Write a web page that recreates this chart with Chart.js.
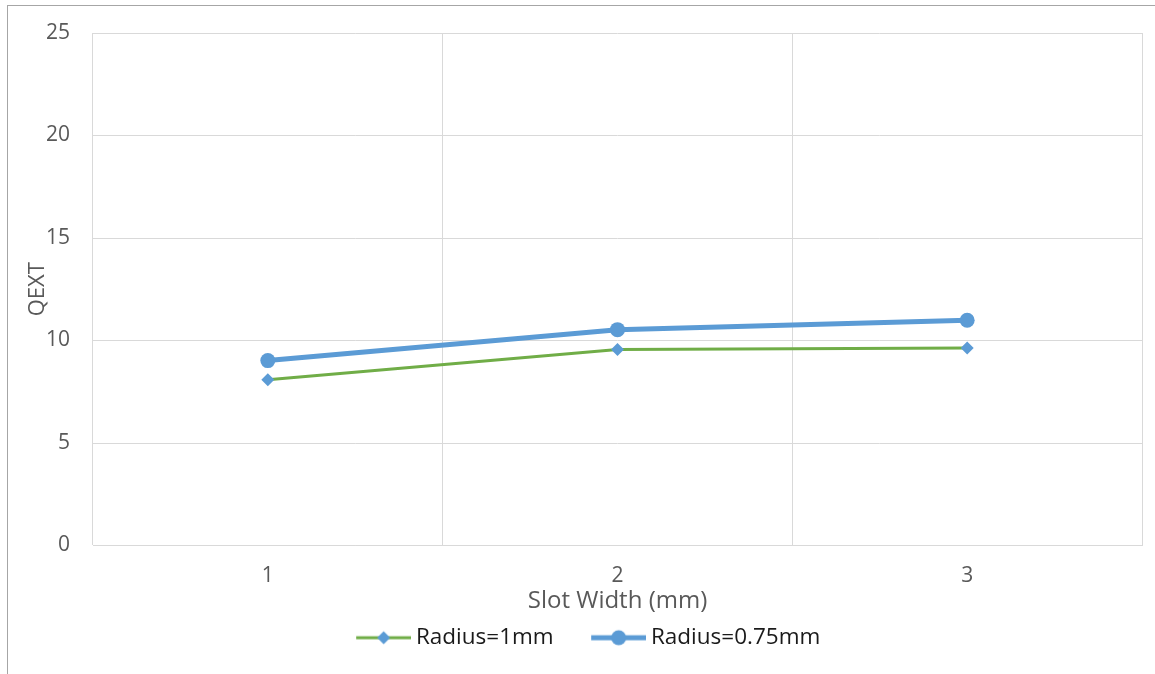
<!DOCTYPE html>
<html lang="en">
<head>
    <meta charset="UTF-8">
    <title>QEXT vs Slot Width</title>
    <script src="https://cdn.jsdelivr.net/npm/chart.js@4.4.0/dist/chart.umd.min.js"></script>
    <style>
        body { margin: 0; background: #fff; }
        #frame {
            position: absolute; left: 7px; top: 5px;
            width: 1148px; height: 669px;
            border-left: 1px solid #a6a6a6; border-top: 1px solid #a6a6a6;
        }
        #wrap { position: absolute; left: 0; top: 0; width: 1147px; height: 668px; }
    </style>
</head>
<body>

<div id="frame"><div id="wrap"><canvas id="myChart"></canvas></div></div>

<script>

    var slotWidths = ['1', '2', '3'];
    var radius1mm = [8.09, 9.56, 9.63];
    var radius075mm = [9.02, 10.53, 10.99];
    var yTicks = [0, 5, 10, 15, 20, 25];

    var green = '#70AD47';
    var blue = '#5B9BD5';
    var font = "'Open Sans', 'Liberation Sans', sans-serif";

    // legend picture: line + marker, drawn in the right part of a wider canvas
    var iconW = 88, lineLen = 55;
    function legendIcon(lineColor, lineWidth, marker) {
        var c = document.createElement('canvas');
        c.width = iconW; c.height = 18;
        var g = c.getContext('2d');
        var x0 = iconW - lineLen, mid = iconW - lineLen / 2;
        g.strokeStyle = lineColor;
        g.lineWidth = lineWidth;
        g.beginPath(); g.moveTo(x0, 9); g.lineTo(iconW, 9); g.stroke();
        g.fillStyle = blue;
        g.beginPath();
        if (marker == 'diamond') {
            g.moveTo(mid, 2.5); g.lineTo(mid + 6.5, 9); g.lineTo(mid, 15.5); g.lineTo(mid - 6.5, 9);
        } else {
            g.arc(mid, 9, 7.5, 0, Math.PI * 2);
        }
        g.closePath(); g.fill();
        return c;
    }

    var icons = [legendIcon(green, 3, 'diamond'), legendIcon(blue, 5, 'circle')];

    var ctx = document.getElementById('myChart');

    var chart = new Chart(ctx, {
        type: 'line',
        data: {
            labels: slotWidths,
            datasets: [{
                label: 'Radius=1mm',
                data: radius1mm,
                borderColor: green,
                backgroundColor: blue,
                borderWidth: 3,
                pointStyle: 'rectRot',
                pointRadius: 6.5,
                pointHoverRadius: 6.5,
                pointBorderWidth: 0,
                pointBackgroundColor: blue,
                tension: 0
            }, {
                label: 'Radius=0.75mm',
                data: radius075mm,
                borderColor: blue,
                backgroundColor: blue,
                borderWidth: 5,
                pointStyle: 'circle',
                pointRadius: 7.5,
                pointHoverRadius: 7.5,
                pointBorderWidth: 0,
                pointBackgroundColor: blue,
                tension: 0
            }]
        },
        options: {
            responsive: true,
            maintainAspectRatio: false,
            animation: false,
            layout: { padding: { top: 27, right: 13, bottom: 15, left: 0 } },
            plugins: {
                tooltip: { enabled: false },
                legend: {
                    position: 'bottom',
                    labels: {
                        usePointStyle: true,
                        pointStyleWidth: iconW - 13,
                        padding: 11,
                        color: '#1a1a1a',
                        font: { family: font, size: 22.5 },
                        generateLabels: function (chart) {
                            return chart.data.datasets.map(function (ds, i) {
                                return {
                                    text: ds.label,
                                    pointStyle: icons[i],
                                    fillStyle: ds.borderColor,
                                    strokeStyle: ds.borderColor,
                                    lineWidth: 0,
                                    fontColor: '#1a1a1a',
                                    hidden: false,
                                    datasetIndex: i
                                };
                            });
                        }
                    }
                }
            },
            scales: {
                x: {
                    offset: true,
                    grid: { offset: true, color: '#D9D9D9', lineWidth: 1, drawTicks: false },
                    border: { color: '#D9D9D9' },
                    ticks: { color: '#595959', padding: 18, font: { family: font, size: 21 } },
                    title: {
                        display: true,
                        text: 'Slot Width (mm)',
                        color: '#595959',
                        padding: { top: -20, bottom: 0 },
                        font: { family: font, size: 24 }
                    }
                },
                y: {
                    min: 0,
                    max: 25,
                    afterBuildTicks: function (scale) {
                        scale.ticks = yTicks.map(function (v) { return { value: v }; });
                    },
                    afterFit: function (scale) {
                        scale.width = 85;
                        scale.paddingTop = 0;
                        scale.paddingBottom = 0;
                    },
                    grid: { color: '#D9D9D9', lineWidth: 1, drawTicks: false },
                    border: { display: false },
                    ticks: { color: '#595959', padding: 23, font: { family: font, size: 21 } },
                    title: {
                        display: true,
                        text: 'QEXT',
                        color: '#595959',
                        padding: { top: 17, bottom: 0 },
                        font: { family: font, size: 22 }
                    }
                }
            }
        }
    });

</script>

</body>
</html>
